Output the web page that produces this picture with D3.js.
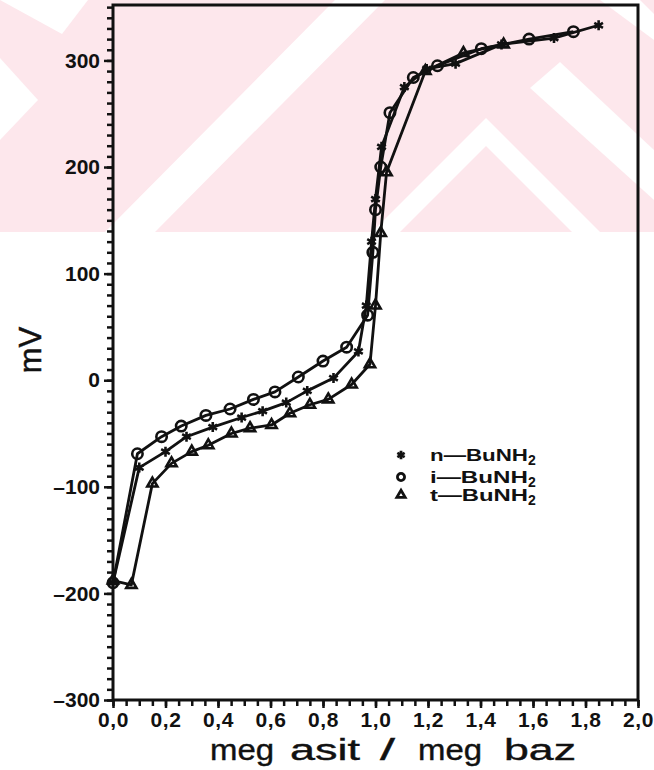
<!DOCTYPE html>
<html>
<head>
<meta charset="utf-8">
<script src="https://cdn.jsdelivr.net/npm/d3@7"></script>
<style>
  body { margin: 0; background: #fff; }
  svg { display: block; }
</style>
</head>
<body>
<script>
// titration curves, mV vs meq acid / meq base
var nBu = [[0,-190],[0.10,-82],[0.20,-67],[0.28,-53],[0.38,-44],[0.49,-35],[0.57,-29],[0.66,-21],
  [0.74,-10],[0.84,2],[0.935,27],[0.965,70],[0.985,130],[1.0,170],[1.023,219],[1.11,275],
  [1.195,292],[1.305,297],[1.48,315],[1.68,321],[1.85,333]];
var iBu = [[0,-190],[0.093,-69],[0.185,-53],[0.26,-43],[0.354,-33],[0.446,-27],[0.535,-18],
  [0.617,-11],[0.706,3],[0.80,18],[0.89,31],[0.97,61],[0.99,120],[1.0,160],[1.02,200],
  [1.055,251],[1.144,284],[1.236,295],[1.403,311],[1.585,320],[1.754,327]];
var tBu = [[0,-188],[0.07,-192],[0.15,-97],[0.223,-78],[0.30,-67],[0.363,-61],[0.451,-50],
  [0.522,-45],[0.604,-42],[0.674,-31],[0.75,-23],[0.82,-18],[0.909,-4],[0.979,15],[1.0,70],
  [1.02,138],[1.042,195],[1.19,290],[1.335,307],[1.488,315]];
var seriesNames = ['n\u2014BuNH', 'i\u2014BuNH', 't\u2014BuNH'];
var xTicks = [0,0.2,0.4,0.6,0.8,1.0,1.2,1.4,1.6,1.8,2.0];
var yTicks = [-300,-200,-100,0,100,200,300];
var titleWords = ['meg', 'asit', '/', 'meg', 'baz'];

var W = 654, H = 770;
var svg = d3.select('body').append('svg')
    .attr('width', W)
    .attr('height', H);

// pink watermark in the top part of the scan
var wm = svg.append('g');
wm.append('rect').attr('x', 0).attr('y', 0).attr('width', W).attr('height', 232)
    .attr('fill', '#fde7ec');
var whites = [
  [[0,0],[88,0],[62,34]],
  [[0,58],[38,100],[0,140]],
  [[105,232],[155,232],[385,0],[335,0]],
  [[372,232],[486,118],[600,232],[572,232],[486,146],[400,232]],
  [[530,88],[560,62],[654,150],[654,200]],
  [[600,0],[640,0],[654,14],[654,40]]
];
whites.forEach(function(p) {
  wm.append('polygon').attr('points', p.map(function(d) { return d.join(','); }).join(' '))
      .attr('fill', '#fff');
});

var x = d3.scaleLinear().domain([0, 2]).range([113, 638]);
var y = d3.scaleLinear().domain([-300, 352]).range([700, 5]);

var font = 'Liberation Sans, Arial, sans-serif';

// frame
svg.append('rect')
    .attr('x', x(0)).attr('y', y(352))
    .attr('width', x(2) - x(0)).attr('height', y(-300) - y(352))
    .attr('fill', 'none').attr('stroke', '#111').attr('stroke-width', 3);

// minor ticks
var gxm = svg.append('g').attr('transform', 'translate(0,' + y(-300) + ')')
    .call(d3.axisBottom(x).tickValues(d3.range(0, 2.001, 0.05)).tickSize(6).tickFormat(''));
var gym = svg.append('g').attr('transform', 'translate(' + x(0) + ',0)')
    .call(d3.axisLeft(y).tickValues(d3.range(-300, 351, 10)).tickSize(6).tickFormat(''));

// major ticks with labels
var gx = svg.append('g').attr('transform', 'translate(0,' + y(-300) + ')')
    .call(d3.axisBottom(x).tickValues(xTicks).tickSize(8).tickPadding(4)
      .tickFormat(function(d) { return d3.format('.1f')(d).replace('.', ','); }));
var gy = svg.append('g').attr('transform', 'translate(' + x(0) + ',0)')
    .call(d3.axisLeft(y).tickValues(yTicks).tickSize(9).tickPadding(4)
      .tickFormat(function(d) { return d < 0 ? '\u2013' + Math.abs(d) : d; }));

[gxm, gym, gx, gy].forEach(function(g) {
  g.select('.domain').remove();
  g.selectAll('line').attr('stroke', '#111').attr('stroke-width', 2.5);
});
gx.selectAll('text').attr('font-family', font).attr('font-weight', 'bold')
    .attr('font-size', 21).attr('letter-spacing', 0.6).attr('fill', '#111');
gy.selectAll('text').attr('font-family', font).attr('font-weight', 'bold')
    .attr('font-size', 21).attr('fill', '#111');

// axis titles
var wordX = [210, 290, 380, 418, 504];
var wordLen = [64, 70, 15, 64, 72];
var tt = svg.append('text')
    .attr('y', 760)
    .attr('font-family', font).attr('font-size', 30)
    .attr('fill', '#111').attr('stroke', '#111').attr('stroke-width', 0.4);
titleWords.forEach(function(w, i) {
  tt.append('tspan').attr('x', wordX[i])
      .attr('textLength', wordLen[i]).attr('lengthAdjust', 'spacingAndGlyphs')
      .text(w);
});
svg.append('text')
    .attr('transform', 'translate(41,350) rotate(-90)')
    .attr('text-anchor', 'middle')
    .attr('font-family', font).attr('font-size', 31)
    .attr('fill', '#111').attr('stroke', '#111').attr('stroke-width', 0.5)
    .text('mV');

// curves
var line = d3.line()
    .x(function(d) { return x(d[0]); })
    .y(function(d) { return y(d[1]); });

var series = [
  { data: nBu, sym: d3.symbolAsterisk, size: 70 },
  { data: iBu, sym: d3.symbolCircle, size: 85 },
  { data: tBu, sym: d3.symbolTriangle2, size: 75 }
];

series.forEach(function(s) {
  svg.append('path')
      .datum(s.data)
      .attr('d', line)
      .attr('fill', 'none')
      .attr('stroke', '#111')
      .attr('stroke-width', 2.8)
      .attr('stroke-linejoin', 'round');
  svg.append('g').selectAll('path')
      .data(s.data)
      .enter().append('path')
      .attr('transform', function(d) { return 'translate(' + x(d[0]) + ',' + y(d[1]) + ')'; })
      .attr('d', d3.symbol(s.sym, s.size))
      .attr('fill', 'none')
      .attr('stroke', '#111')
      .attr('stroke-width', 2.6);
});

// legend
var leg = svg.append('g');
var legY = [455, 477, 495];
series.forEach(function(s, i) {
  var ly = legY[i];
  leg.append('path')
      .attr('transform', 'translate(401,' + ly + ')')
      .attr('d', d3.symbol(s.sym, i === 1 ? 40 : 50))
      .attr('fill', 'none')
      .attr('stroke', '#111')
      .attr('stroke-width', 2.8);
  var t = leg.append('text')
      .attr('x', 430).attr('y', ly + 6)
      .attr('font-family', font).attr('font-weight', 'bold')
      .attr('font-size', 17).attr('fill', '#111');
  t.append('tspan').attr('textLength', 98).attr('lengthAdjust', 'spacingAndGlyphs')
      .text(seriesNames[i]);
  t.append('tspan').attr('font-size', 14).attr('dy', 4).text('2');
});
</script>
</body>
</html>
